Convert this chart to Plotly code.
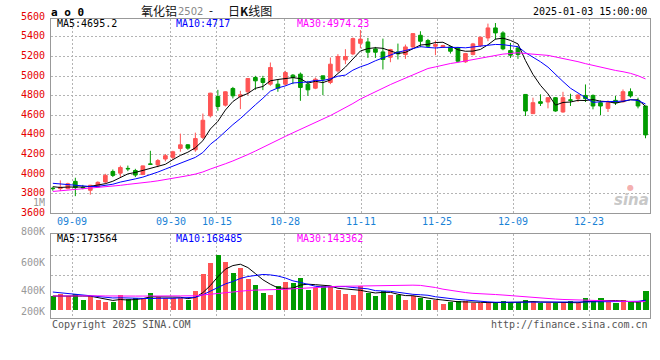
import numpy as np
import plotly.graph_objects as go

# ---------------- data ----------------
dates = ["09-04", "09-05", "09-06", "09-09", "09-10", "09-11", "09-12", "09-13", "09-18", "09-19",
         "09-20", "09-23", "09-24", "09-25", "09-26", "09-27", "09-30", "10-08", "10-09", "10-10",
         "10-11", "10-14", "10-15", "10-16", "10-17", "10-18", "10-21", "10-22", "10-23", "10-24",
         "10-25", "10-28", "10-29", "10-30", "10-31", "11-01", "11-04", "11-05", "11-06", "11-07",
         "11-08", "11-11", "11-12", "11-13", "11-14", "11-15", "11-18", "11-19", "11-20", "11-21",
         "11-22", "11-25", "11-26", "11-27", "11-28", "11-29", "12-02", "12-03", "12-04", "12-05",
         "12-06", "12-09", "12-10", "12-11", "12-12", "12-13", "12-16", "12-17", "12-18", "12-19",
         "12-20", "12-23", "12-24", "12-25", "12-26", "12-27", "12-30", "12-31", "01-02", "01-03"]

opens = [3856, 3852, 3852, 3926, 3864, 3835, 3869, 3920, 4027, 4010,
         4058, 4037, 3997, 4104, 4094, 4154, 4171, 4262, 4299, 4248,
         4375, 4595, 4792, 4704, 4874, 4792, 4840, 4986, 4976, 4918,
         4918, 4918, 5010, 5020, 4918, 4877, 5003, 4935, 5054, 5166,
         5227, 5335, 5349, 5278, 5247, 5193, 5247, 5220, 5298, 5417,
         5363, 5305, 5298, 5298, 5288, 5146, 5220, 5312, 5390, 5492,
         5441, 5261, 5288, 4813, 4617, 4739, 4736, 4780, 4634, 4758,
         4770, 4803, 4803, 4729, 4671, 4753, 4739, 4841, 4753, 4695]
highs = [3870, 3936, 3912, 3963, 3890, 3890, 3926, 4003, 4047, 4087,
         4087, 4054, 4087, 4238, 4154, 4205, 4238, 4413, 4306, 4423,
         4618, 4830, 4860, 4845, 4890, 4850, 4980, 5003, 5003, 5139,
         4969, 5054, 5020, 5037, 4952, 4986, 5003, 5190, 5224, 5275,
         5394, 5470, 5390, 5298, 5383, 5278, 5332, 5322, 5434, 5458,
         5380, 5363, 5320, 5305, 5298, 5237, 5339, 5400, 5536, 5542,
         5458, 5339, 5295, 4813, 4780, 4814, 4786, 4786, 4840, 4820,
         4813, 4915, 4813, 4752, 4752, 4797, 4864, 4875, 4780, 4695]
lows = [3830, 3828, 3845, 3775, 3845, 3790, 3862, 3903, 3970, 3970,
        4030, 3970, 3990, 4094, 4070, 4130, 4148, 4228, 4248, 4228,
        4357, 4578, 4646, 4690, 4772, 4663, 4806, 4860, 4857, 4901,
        4840, 4901, 4918, 4748, 4799, 4867, 4806, 4918, 5037, 5122,
        5214, 5284, 5186, 5186, 5068, 5142, 5170, 5176, 5278, 5295,
        5288, 5214, 5288, 5230, 5142, 5136, 5213, 5298, 5356, 5373,
        5264, 5186, 5176, 4593, 4617, 4695, 4671, 4637, 4627, 4695,
        4736, 4736, 4661, 4603, 4634, 4705, 4729, 4780, 4671, 4366]
closes = [3852, 3866, 3902, 3862, 3860, 3886, 3916, 3987, 3987, 4067,
          4054, 3990, 4084, 4100, 4138, 4188, 4228, 4299, 4265, 4363,
          4550, 4826, 4690, 4840, 4799, 4810, 4976, 4952, 4935, 5088,
          4877, 5037, 4986, 4884, 4860, 4969, 4969, 5122, 5200, 5200,
          5383, 5378, 5244, 5244, 5170, 5271, 5227, 5298, 5434, 5356,
          5305, 5322, 5312, 5254, 5152, 5230, 5329, 5397, 5492, 5441,
          5278, 5214, 5220, 4644, 4729, 4722, 4780, 4644, 4780, 4753,
          4807, 4770, 4695, 4695, 4729, 4729, 4841, 4797, 4695, 4400]
volumes = [240500, 273300, 240500, 273300, 175000, 229600, 164000, 142000, 131000, 251000,
           186000, 208000, 208000, 290000, 224000, 197000, 197000, 197000, 175000, 323000,
           590000, 782000, 913000, 798000, 618000, 700000, 508000, 421000, 290000, 251000,
           405000, 459000, 448000, 536000, 328000, 361000, 405000, 405000, 339000, 273000,
           251000, 405000, 284000, 240000, 323000, 251000, 251000, 175000, 230000, 208000,
           164000, 164000, 109000, 142000, 153000, 153000, 120000, 120000, 120000, 142000,
           159000, 142000, 131000, 175000, 142000, 120000, 120000, 120000, 142000, 153000,
           120000, 208000, 153000, 208000, 142000, 120000, 175000, 131000, 131000, 312000]

# sessions before the visible window (needed for the moving averages)
prior_closes = [3680, 3690, 3700, 3695, 3710, 3725, 3740, 3750, 3765, 3770,
                3785, 3800, 3810, 3820, 3835, 3845, 3855, 3870, 3880, 3900,
                3930, 3955, 3960, 3935, 3925, 3905, 3880, 3870, 3850]
prior_volumes = [200000, 215000, 190000, 210000, 225000, 205000, 195000, 220000, 210000, 200000,
                 215000, 205000, 190000, 210000, 220000, 200000, 205000, 215000, 210000, 205000,
                 390000, 360000, 380000, 370000, 360000, 260000, 230000, 250000, 220000]

tick_dates = ["09-09", "09-30", "10-15", "10-28", "11-11", "11-25", "12-09", "12-23"]
price_labels = [3600, 3800, 4000, 4200, 4400, 4600, 4800, 5000, 5200, 5400, 5600]
vol_labels = ["800K", "600K", "400K", "200K"]
ma_periods = [5, 10, 30]
price_legend = ["MA5:4695.2", "MA10:4717", "MA30:4974.23"]
vol_legend = ["MA5:173564", "MA10:168485", "MA30:143362"]
title_name = "氧化铝"
title_code = "2502"
title_kind = "日K线图"
stamp = "2025-01-03 15:00:00"

# ---------------- styles / layout geometry ----------------
W, H = 660, 360
PL, PR = 50.5, 650.0
PT, PB = 19.0, 213.3
VT, VB = 234.3, 318.3
RED, GREEN = "#ff5555", "#009c00"
MA_COLORS = ["#000000", "#0000ff", "#ff00ff"]
MONO = "DejaVu Sans Mono"
GRID = "#b4b4b4"
PRICE_RANGE = [3600, 5583]
VOL_RANGE = [-124600, 1253000]
X_RANGE = [-0.31, 79.6]


def px(v):
    return v / W


def py(v):
    return 1 - v / H


def moving_avg(prior, vals, n):
    full = np.array(prior + vals, dtype=float)
    off = len(prior)
    return [full[off + i - n + 1: off + i + 1].mean() for i in range(len(vals))]


x = list(range(len(dates)))
# Sina places its date grid on a slightly wider step than the candles
grid_pos = [2.573 + (dates.index(d) - 3) * 1.01333 for d in tick_dates]

fig = go.Figure()

fig.add_trace(go.Candlestick(
    x=x, open=opens, high=highs, low=lows, close=closes,
    increasing=dict(line=dict(color=RED, width=1), fillcolor=RED),
    decreasing=dict(line=dict(color=GREEN, width=1), fillcolor=GREEN),
    whiskerwidth=0, hoverinfo="skip", xaxis="x", yaxis="y"))

for n, c in zip(ma_periods, MA_COLORS):
    fig.add_trace(go.Scatter(x=x, y=moving_avg(prior_closes, closes, n), mode="lines",
                             line=dict(color=c, width=1), hoverinfo="skip",
                             xaxis="x", yaxis="y"))

bar_colors = [RED if c > o else GREEN for o, c in zip(opens, closes)]
fig.add_trace(go.Bar(x=x, y=volumes, marker=dict(color=bar_colors, line=dict(width=0)),
                     width=0.67, hoverinfo="skip", xaxis="x2", yaxis="y2"))
for n, c in zip(ma_periods, MA_COLORS):
    fig.add_trace(go.Scatter(x=x, y=moving_avg(prior_volumes, volumes, n), mode="lines",
                             line=dict(color=c, width=1), hoverinfo="skip",
                             xaxis="x2", yaxis="y2"))

axis_common = dict(showline=True, mirror=True, linecolor="#999999", linewidth=1,
                   zeroline=False, showticklabels=False, ticks="",
                   gridcolor=GRID, griddash="2px,2px", gridwidth=1, fixedrange=True)

fig.update_layout(
    width=W, height=H, margin=dict(l=0, r=0, t=0, b=0),
    paper_bgcolor="white", plot_bgcolor="white", showlegend=False,
    bargap=0,
    xaxis=dict(domain=[px(PL), px(PR)], range=X_RANGE, anchor="y",
               tickmode="array", tickvals=grid_pos, showgrid=True,
               rangeslider=dict(visible=False), **axis_common),
    yaxis=dict(domain=[py(PB), py(PT)], range=PRICE_RANGE, anchor="x",
               tickmode="array", tickvals=price_labels[1:-1], showgrid=True, **axis_common),
    xaxis2=dict(domain=[px(PL), px(PR)], range=X_RANGE, anchor="y2",
                tickmode="array", tickvals=grid_pos, showgrid=True, **axis_common),
    yaxis2=dict(domain=[py(VB), py(VT)], range=VOL_RANGE, anchor="x2",
                tickmode="array", tickvals=[585000, 913000], showgrid=True, **axis_common),
)

ann = []


def text(xp, yp, s, color="#000", size=10, anchor="left", family=MONO, **kw):
    ann.append(dict(x=px(xp), y=py(yp), xref="paper", yref="paper", text=s,
                    showarrow=False, xanchor=anchor, yanchor="middle",
                    font=dict(family=family, size=size, color=color), **kw))


# price axis labels (compact boxes: they sit close together, as in the original)
for v in price_labels:
    ypix = PB - (v - PRICE_RANGE[0]) * (PB - PT) / (PRICE_RANGE[1] - PRICE_RANGE[0])
    text(47, ypix - 1.5, str(v), color="#e60000", anchor="right", height=8)
text(47, 202, "1M", color="#999999", anchor="right", height=8)

# volume axis labels
for s, ypix in zip(vol_labels, [231, 261.7, 290, 310.5]):
    text(47, ypix, s, color="#999999", anchor="right", height=8)

# date labels
for d, g in zip(tick_dates, grid_pos):
    ann.append(dict(x=g, y=py(221.7), xref="x", yref="paper", text=d, showarrow=False,
                    xanchor="center", yanchor="middle",
                    font=dict(family=MONO, size=10, color="#1a82d6")))

# MA legends
for s, c, xp in zip(price_legend, MA_COLORS, [55, 174, 295]):
    text(xp, 24, s, color=c)
for s, c, xp in zip(vol_legend, MA_COLORS, [55, 174, 295]):
    text(xp, 238.5, s, color=c)

# header
text(49, 12.5, "<b>a o 0</b>", size=11)
text(139, 10.5, title_name, size=12, family="Noto Sans CJK SC", color="#111")
text(176, 11, title_code, size=10, family="DejaVu Sans", color="#888")
text(207, 10.5, "-", size=11, family="DejaVu Sans", color="#111")
text(226, 10.5, title_kind.replace("K", "<b>K</b>"), size=12, family="Noto Sans CJK SC", color="#111")
text(648.5, 11.5, stamp, anchor="right")

# footer
text(50, 324, "Copyright 2025 SINA.COM", color="#555")
text(650, 324, "http://finance.sina.com.cn", color="#555", anchor="right")

# watermark
text(651, 200, "<b><i>sina</i></b>", color="#c8c8c8", size=15, anchor="right",
     family="DejaVu Sans", height=14)
text(630, 187, "●", color="#f4b0b0", size=8, anchor="center", family="DejaVu Sans", height=7)

fig.update_layout(annotations=ann)
fig.write_html("out.html")
